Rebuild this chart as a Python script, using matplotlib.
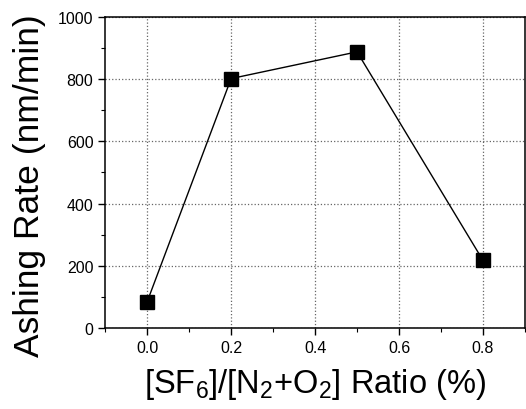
import matplotlib
matplotlib.use('Agg')

import matplotlib.pyplot as plt
from matplotlib.ticker import MultipleLocator

plt.rcParams['font.family'] = ['Liberation Sans', 'DejaVu Sans']
plt.rcParams['mathtext.fontset'] = 'custom'
plt.rcParams['mathtext.rm'] = 'Liberation Sans'

# data
ratio = [0.0, 0.2, 0.5, 0.8]
ashing_rate = [84, 802, 888, 217]

fig = plt.figure(figsize=(5.26, 4.10), dpi=100)
ax = fig.add_axes([0.2, 0.198, 0.798, 0.758])

ax.plot(ratio, ashing_rate, color='black', linewidth=1.0,
        marker='s', markersize=10, markerfacecolor='black', markeredgecolor='black')

ax.set_xlim(-0.1, 0.9)
ax.set_ylim(0, 1000)
ax.xaxis.set_major_locator(MultipleLocator(0.2))
ax.xaxis.set_minor_locator(MultipleLocator(0.1))
ax.yaxis.set_major_locator(MultipleLocator(200))
ax.yaxis.set_minor_locator(MultipleLocator(100))
ax.set_xticks([0.0, 0.2, 0.4, 0.6, 0.8])
ax.set_xticklabels(['0.0', '0.2', '0.4', '0.6', '0.8'])

ax.grid(True, which='major', linestyle=':', color='#666666', linewidth=0.9)
ax.tick_params(which='major', direction='out', length=5, width=1.0, labelsize=11.5)
ax.tick_params(which='minor', direction='out', length=3, width=0.8)
for s in ax.spines.values():
    s.set_linewidth(1.1)

ax.set_ylabel('Ashing Rate (nm/min)', fontsize=25.5)
ax.yaxis.set_label_coords(-0.14, 0.46)
ax.set_xlabel(r'[SF$_6$]/[N$_2$+O$_2$] Ratio (%)', fontsize=23.5, labelpad=8)

fig.savefig('out.png', dpi=100)
